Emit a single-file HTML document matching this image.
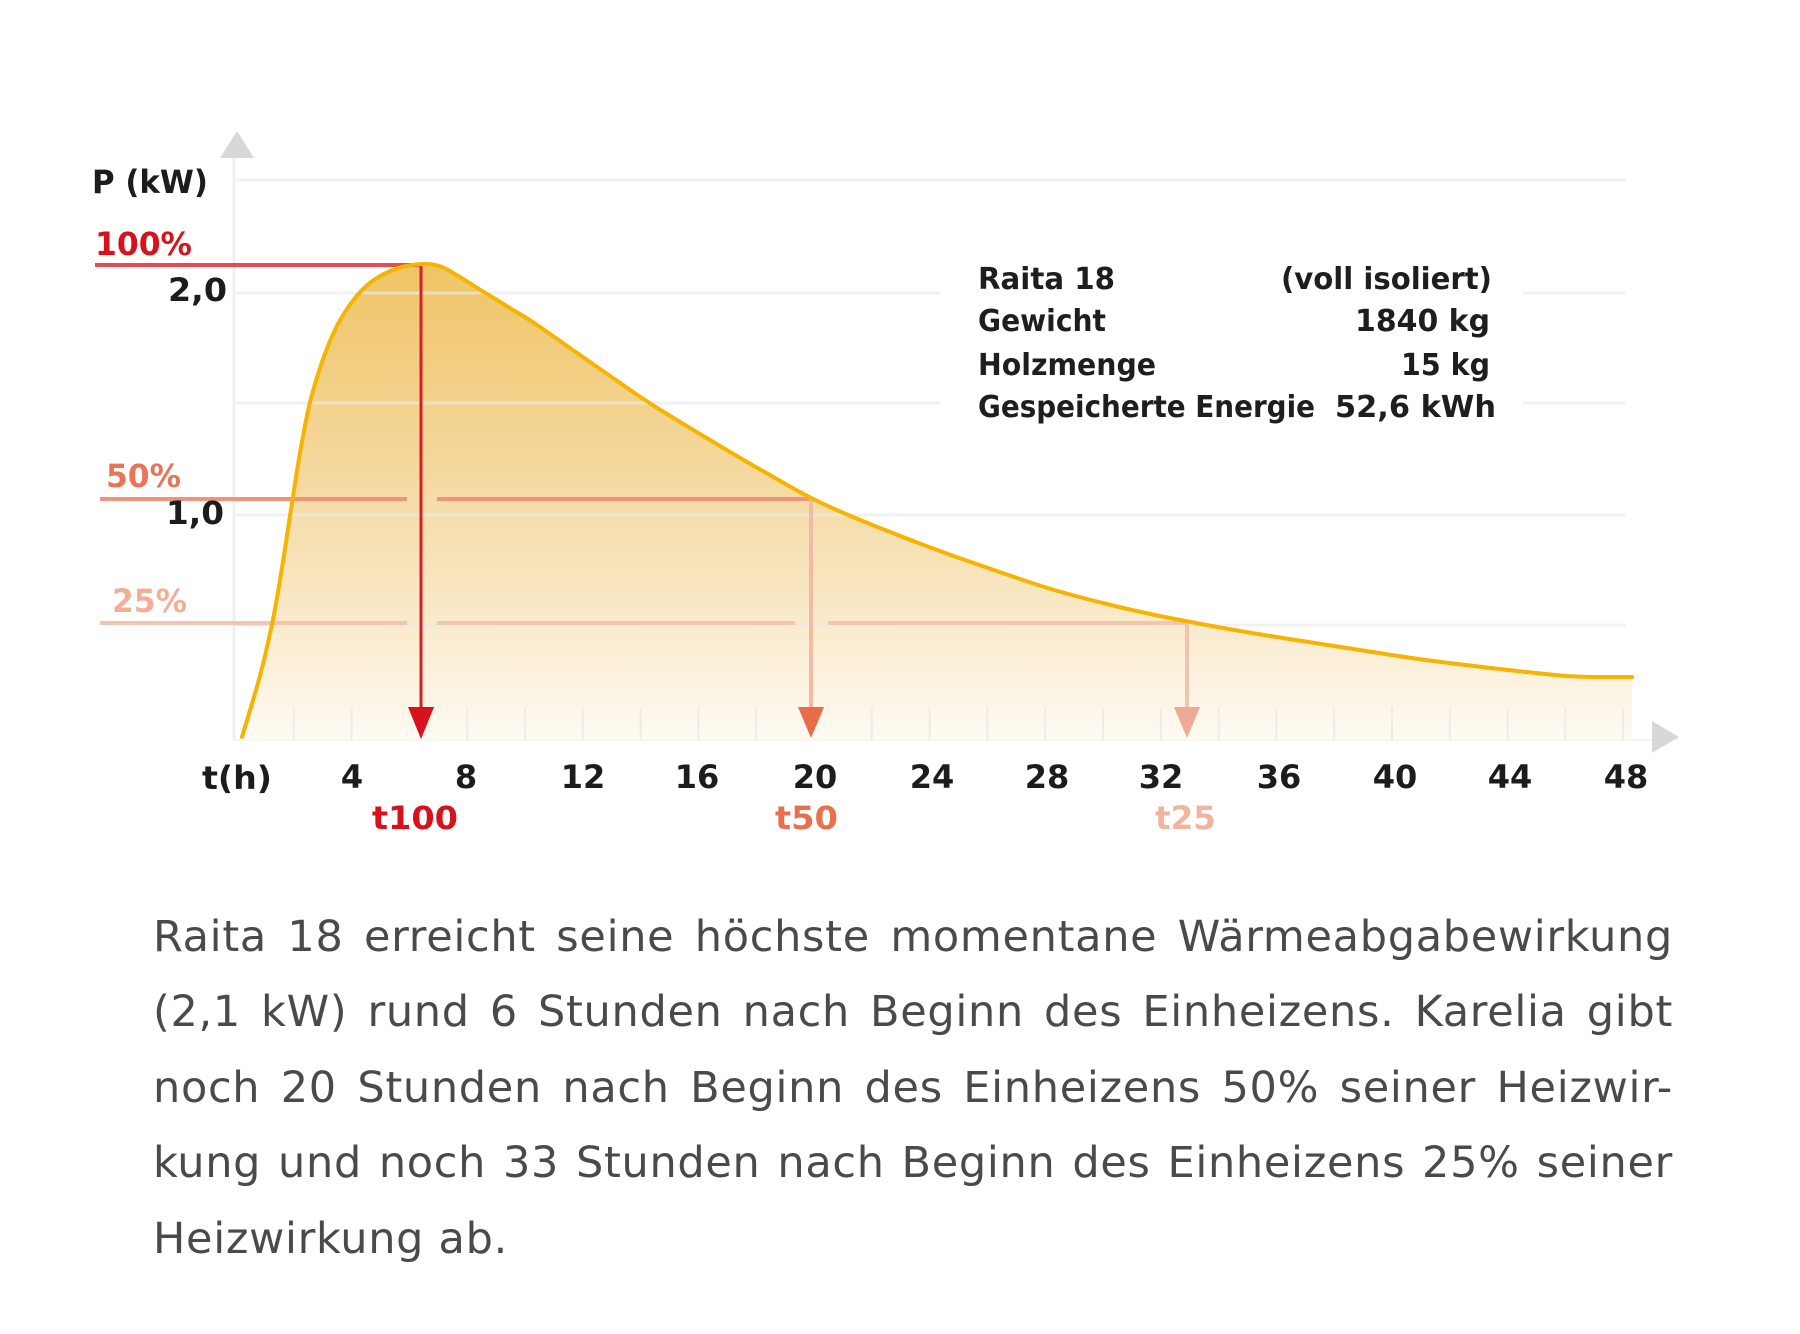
<!DOCTYPE html>
<html>
<head>
<meta charset="utf-8">
<style>
  html, body { margin: 0; padding: 0; background: #ffffff; }
  body { width: 1800px; height: 1334px; position: relative; overflow: hidden; }
  svg { position: absolute; left: 0; top: 0; }
  .p {
    position: absolute; left: 153px; width: 1520px;
    font-family: "DejaVu Sans", "Liberation Sans", sans-serif;
    font-size: 43px; line-height: 60px; color: #4a4a4a;
    letter-spacing: 0.7px;
    text-align: justify; text-align-last: justify;
    white-space: nowrap;
  }
  .p.last { text-align: left; text-align-last: left; }
</style>
</head>
<body>
<svg width="1800" height="1334" viewBox="0 0 1800 1334" xmlns="http://www.w3.org/2000/svg">
  <defs>
    <linearGradient id="g" x1="0" y1="264" x2="0" y2="740" gradientUnits="userSpaceOnUse">
      <stop offset="0" stop-color="#efc466"/>
      <stop offset="0.45" stop-color="#f5d9a0"/>
      <stop offset="0.75" stop-color="#f9eacb"/>
      <stop offset="1" stop-color="#fefaf3"/>
    </linearGradient>
  </defs>

  <!-- y axis -->
  <line x1="234" y1="157" x2="234" y2="740" stroke="#efefef" stroke-width="3"/>
  <polygon points="237,131 220,158 254,158" fill="#d8d8d8"/>
  <!-- x axis -->
  <line x1="234" y1="740" x2="1652" y2="740" stroke="#f4f4f4" stroke-width="2"/>
  <polygon points="1679,737 1652,721 1652,753" fill="#d8d8d8"/>

  <!-- area fill -->
  <path fill="url(#g)" d="M242,740 L242,737 L245,727 Q248,717 251,707 Q254,697 257,686.5 Q260,676 262.5,666 Q265,656 267,647 Q269,638 271,629 Q273,620 275,609 Q277,598 279,586 Q281,574 283,561.5 Q285,549 287,535.5 Q289,522 291,509.5 Q293,497 295,483.5 Q297,470 300,453 Q303,436 306,420.5 Q309,405 313,391 Q317,377 321,365 Q325,353 330,341 Q335,329 340.5,319.5 Q346,310 351.5,302.5 Q357,295 363,289 Q369,283 376,278.5 Q383,274 390.5,271 Q398,268 404,266.5 Q410,265 415.5,264.5 Q421,264 426.5,264 Q432,264 437.5,265.5 Q443,267 449,270.5 Q455,274 461.5,278 Q468,282 475,286.5 Q482,291 489.5,295.5 Q497,300 505,305 Q513,310 521.5,315 Q530,320 545,330.5 Q560,341 575,351.5 Q590,362 605,372.5 Q620,383 634.5,393 Q649,403 664.5,412.5 Q680,422 695,431 Q710,440 725,449 Q740,458 757.5,468 Q775,478 793.5,488.5 Q812,499 831,507.5 Q850,516 875,526 Q900,536 925,545.5 Q950,555 975,563.5 Q1000,572 1021.5,579.5 Q1043,587 1066.5,593.5 Q1090,600 1115,606 Q1140,612 1165,617 Q1190,622 1217.5,627 Q1245,632 1273.5,636.5 Q1302,641 1331,645.5 Q1360,650 1388.5,654.5 Q1417,659 1441,662 Q1465,665 1486.5,667.5 Q1508,670 1526.5,672 Q1545,674 1560,675.5 Q1575,677 1603.5,677 L1632,677 L1632,740 Z"/>

  <!-- bottom ticks -->
  <g stroke="#ebebeb" stroke-width="2" opacity="0.9">
    <line x1="293.8" y1="707" x2="293.8" y2="740"/>
    <line x1="351.6" y1="707" x2="351.6" y2="740"/>
    <line x1="467.2" y1="707" x2="467.2" y2="740"/>
    <line x1="525" y1="707" x2="525" y2="740"/>
    <line x1="582.8" y1="707" x2="582.8" y2="740"/>
    <line x1="640.6" y1="707" x2="640.6" y2="740"/>
    <line x1="698.4" y1="707" x2="698.4" y2="740"/>
    <line x1="756.2" y1="707" x2="756.2" y2="740"/>
    <line x1="871.8" y1="707" x2="871.8" y2="740"/>
    <line x1="929.6" y1="707" x2="929.6" y2="740"/>
    <line x1="987.4" y1="707" x2="987.4" y2="740"/>
    <line x1="1045.2" y1="707" x2="1045.2" y2="740"/>
    <line x1="1103" y1="707" x2="1103" y2="740"/>
    <line x1="1160.8" y1="707" x2="1160.8" y2="740"/>
    <line x1="1218.6" y1="707" x2="1218.6" y2="740"/>
    <line x1="1276.4" y1="707" x2="1276.4" y2="740"/>
    <line x1="1334.2" y1="707" x2="1334.2" y2="740"/>
    <line x1="1392" y1="707" x2="1392" y2="740"/>
    <line x1="1449.8" y1="707" x2="1449.8" y2="740"/>
    <line x1="1507.6" y1="707" x2="1507.6" y2="740"/>
    <line x1="1565.4" y1="707" x2="1565.4" y2="740"/>
    <line x1="1623.2" y1="707" x2="1623.2" y2="740"/>
  </g>

  <!-- gridlines -->
  <g stroke="#ebebeb" stroke-width="3" opacity="0.65">
    <line x1="236" y1="180" x2="1626" y2="180"/>
    <line x1="236" y1="293" x2="1626" y2="293"/>
    <line x1="236" y1="403" x2="1626" y2="403"/>
    <line x1="236" y1="515" x2="1626" y2="515"/>
    <line x1="236" y1="625" x2="1626" y2="625"/>
  </g>

  <!-- legend background -->
  <rect x="940" y="246" width="583" height="192" fill="#ffffff"/>

  <!-- 100% reference -->
  <line x1="95" y1="265" x2="421" y2="265" stroke="#e64b56" stroke-width="4"/>
  <line x1="421" y1="265" x2="421" y2="710" stroke="#d81e28" stroke-width="3"/>
  <polygon points="408,707 434,707 421,739" fill="#d7121c"/>

  <!-- 50% reference -->
  <line x1="100" y1="499" x2="407" y2="499" stroke="#ec957a" stroke-width="4"/>
  <line x1="437" y1="499" x2="811" y2="499" stroke="#ec957a" stroke-width="4"/>
  <line x1="811" y1="499" x2="811" y2="710" stroke="#f2bba5" stroke-width="4"/>
  <polygon points="798,707 824,707 811,738" fill="#e66c4a"/>

  <!-- 25% reference -->
  <line x1="100" y1="623" x2="407" y2="623" stroke="#f5c4b1" stroke-width="4"/>
  <line x1="437" y1="623" x2="795" y2="623" stroke="#f5c4b1" stroke-width="4"/>
  <line x1="828" y1="623" x2="1187" y2="623" stroke="#f5c4b1" stroke-width="4"/>
  <line x1="1187" y1="623" x2="1187" y2="710" stroke="#f3c3b2" stroke-width="4"/>
  <polygon points="1174,707 1200,707 1187,738" fill="#eeaa95"/>

  <!-- curve -->
  <path fill="none" stroke="#f6b300" stroke-width="4" stroke-linejoin="round" stroke-linecap="round" d="M242,737 L245,727 Q248,717 251,707 Q254,697 257,686.5 Q260,676 262.5,666 Q265,656 267,647 Q269,638 271,629 Q273,620 275,609 Q277,598 279,586 Q281,574 283,561.5 Q285,549 287,535.5 Q289,522 291,509.5 Q293,497 295,483.5 Q297,470 300,453 Q303,436 306,420.5 Q309,405 313,391 Q317,377 321,365 Q325,353 330,341 Q335,329 340.5,319.5 Q346,310 351.5,302.5 Q357,295 363,289 Q369,283 376,278.5 Q383,274 390.5,271 Q398,268 404,266.5 Q410,265 415.5,264.5 Q421,264 426.5,264 Q432,264 437.5,265.5 Q443,267 449,270.5 Q455,274 461.5,278 Q468,282 475,286.5 Q482,291 489.5,295.5 Q497,300 505,305 Q513,310 521.5,315 Q530,320 545,330.5 Q560,341 575,351.5 Q590,362 605,372.5 Q620,383 634.5,393 Q649,403 664.5,412.5 Q680,422 695,431 Q710,440 725,449 Q740,458 757.5,468 Q775,478 793.5,488.5 Q812,499 831,507.5 Q850,516 875,526 Q900,536 925,545.5 Q950,555 975,563.5 Q1000,572 1021.5,579.5 Q1043,587 1066.5,593.5 Q1090,600 1115,606 Q1140,612 1165,617 Q1190,622 1217.5,627 Q1245,632 1273.5,636.5 Q1302,641 1331,645.5 Q1360,650 1388.5,654.5 Q1417,659 1441,662 Q1465,665 1486.5,667.5 Q1508,670 1526.5,672 Q1545,674 1560,675.5 Q1575,677 1603.5,677 L1632,677"/>

  <!-- axis labels -->
  <g font-family="'DejaVu Sans', 'Liberation Sans', sans-serif" font-weight="bold" font-size="32">
    <text x="92" y="193" fill="#1c1c1c" textLength="116" lengthAdjust="spacingAndGlyphs">P (kW)</text>
    <text x="95" y="255" fill="#d7121c" textLength="97" lengthAdjust="spacingAndGlyphs">100%</text>
    <text x="168" y="301" fill="#1c1c1c" textLength="59" lengthAdjust="spacingAndGlyphs">2,0</text>
    <text x="106" y="487" fill="#ea7556" textLength="75" lengthAdjust="spacingAndGlyphs">50%</text>
    <text x="166" y="524" fill="#1c1c1c" textLength="58" lengthAdjust="spacingAndGlyphs">1,0</text>
    <text x="112" y="612" fill="#f3ae98" textLength="75" lengthAdjust="spacingAndGlyphs">25%</text>

    <text x="202" y="789" fill="#1c1c1c" textLength="70" lengthAdjust="spacingAndGlyphs">t(h)</text>
    <g fill="#1c1c1c" text-anchor="middle">
      <text x="352" y="788">4</text>
      <text x="466" y="788">8</text>
      <text x="583" y="788">12</text>
      <text x="697" y="788">16</text>
      <text x="815" y="788">20</text>
      <text x="932" y="788">24</text>
      <text x="1047" y="788">28</text>
      <text x="1161" y="788">32</text>
      <text x="1279" y="788">36</text>
      <text x="1395" y="788">40</text>
      <text x="1510" y="788">44</text>
      <text x="1626" y="788">48</text>
    </g>
    <text x="372" y="829" fill="#d7121c" textLength="86" lengthAdjust="spacingAndGlyphs">t100</text>
    <text x="775" y="829" fill="#e8704f" textLength="63" lengthAdjust="spacingAndGlyphs">t50</text>
    <text x="1155" y="829" fill="#f2b4a0" textLength="61" lengthAdjust="spacingAndGlyphs">t25</text>
  </g>

  <!-- legend -->
  <g font-family="'DejaVu Sans', 'Liberation Sans', sans-serif" font-weight="bold" font-size="30" fill="#1e1e1e">
    <text x="978" y="289" textLength="137" lengthAdjust="spacingAndGlyphs">Raita 18</text>
    <text x="1281" y="289" textLength="211" lengthAdjust="spacingAndGlyphs">(voll isoliert)</text>
    <text x="978" y="331" textLength="128" lengthAdjust="spacingAndGlyphs">Gewicht</text>
    <text x="1355" y="331" textLength="135" lengthAdjust="spacingAndGlyphs">1840 kg</text>
    <text x="978" y="375" textLength="178" lengthAdjust="spacingAndGlyphs">Holzmenge</text>
    <text x="1401" y="375" textLength="89" lengthAdjust="spacingAndGlyphs">15 kg</text>
    <text x="978" y="417" textLength="337" lengthAdjust="spacingAndGlyphs">Gespeicherte Energie</text>
    <text x="1335" y="417" textLength="161" lengthAdjust="spacingAndGlyphs">52,6 kWh</text>
  </g>
</svg>

<div class="p" style="top:907px;">Raita 18 erreicht seine höchste momentane Wärmeabgabewirkung</div>
<div class="p" style="top:982px;">(2,1 kW) rund 6 Stunden nach Beginn des Einheizens. Karelia gibt</div>
<div class="p" style="top:1058px;">noch 20 Stunden nach Beginn des Einheizens 50% seiner Heizwir-</div>
<div class="p" style="top:1133px;">kung und noch 33 Stunden nach Beginn des Einheizens 25% seiner</div>
<div class="p last" style="top:1209px;">Heizwirkung ab.</div>
</body>
</html>
